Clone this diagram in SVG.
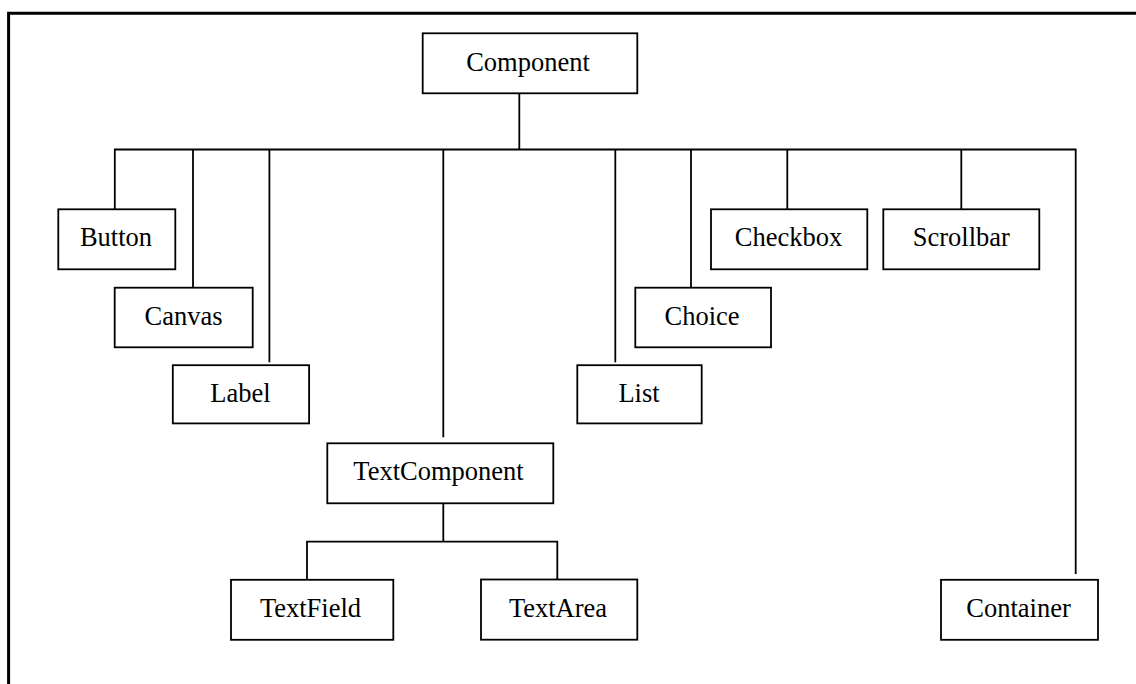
<svg xmlns="http://www.w3.org/2000/svg" width="1136" height="684" viewBox="0 0 1136 684">
  <style>
    .box { fill: #fff; stroke: #000; stroke-width: 1.8; }
    .lbl { font-family: "Liberation Serif", "Times New Roman", serif; font-size: 26.5px; fill: #000; text-anchor: middle; }
    .wire { fill: none; stroke: #000; stroke-width: 1.8; }
    .frame { fill: none; stroke: #000; stroke-width: 3; }
  </style>
  <rect width="1136" height="684" fill="#fff"/>
  <!-- outer frame (right and bottom edges lie outside the page) -->
  <path class="frame" d="M8.6 700 V13.3 H1150"/>

  <g id="connectors">
    <!-- Component stem and main bus -->
    <path class="wire" d="M519.3 93.3 V149.5"/>
    <path class="wire" d="M114.8 209.3 V149.5 H1075.7 V574"/>
    <path class="wire" d="M193 149.5 V287.5"/>
    <path class="wire" d="M269.4 149.5 V362.3"/>
    <path class="wire" d="M443.3 149.5 V437.3"/>
    <path class="wire" d="M615.3 149.5 V362.3"/>
    <path class="wire" d="M691 149.5 V287"/>
    <path class="wire" d="M787.3 149.5 V209.3"/>
    <path class="wire" d="M961.3 149.5 V209.3"/>
    <!-- TextComponent sub-tree -->
    <path class="wire" d="M443.3 503.3 V541.7"/>
    <path class="wire" d="M307 579.8 V541.7 H557.3 V579.8"/>
  </g>

  <g id="component">
    <rect class="box" x="422.7" y="33.3" width="214.6" height="60"/>
    <text class="lbl" x="528" y="70.7">Component</text>
  </g>
  <g id="button">
    <rect class="box" x="58.3" y="209.3" width="117" height="60"/>
    <text class="lbl" x="116" y="246.3">Button</text>
  </g>
  <g id="canvas">
    <rect class="box" x="114.7" y="287.7" width="138" height="59.6"/>
    <text class="lbl" x="183.5" y="324.5">Canvas</text>
  </g>
  <g id="label">
    <rect class="box" x="172.8" y="365.2" width="136.3" height="58.2"/>
    <text class="lbl" x="240.5" y="401.5">Label</text>
  </g>
  <g id="textcomponent">
    <rect class="box" x="327.3" y="443.3" width="226" height="60"/>
    <text class="lbl" x="438.5" y="480.3">TextComponent</text>
  </g>
  <g id="textfield">
    <rect class="box" x="231" y="579.8" width="162.3" height="60"/>
    <text class="lbl" x="310.5" y="616.8">TextField</text>
  </g>
  <g id="textarea">
    <rect class="box" x="481" y="579.5" width="156.3" height="60.2"/>
    <text class="lbl" x="558" y="616.8">TextArea</text>
  </g>
  <g id="list">
    <rect class="box" x="577.3" y="365.2" width="124.4" height="58.2"/>
    <text class="lbl" x="639" y="401.5">List</text>
  </g>
  <g id="choice">
    <rect class="box" x="635.3" y="287.7" width="135.7" height="59.6"/>
    <text class="lbl" x="702" y="324.5">Choice</text>
  </g>
  <g id="checkbox">
    <rect class="box" x="711" y="209.3" width="156.3" height="60"/>
    <text class="lbl" x="788.5" y="246.3">Checkbox</text>
  </g>
  <g id="scrollbar">
    <rect class="box" x="883.3" y="209.3" width="156" height="60"/>
    <text class="lbl" x="961.3" y="246.3">Scrollbar</text>
  </g>
  <g id="container">
    <rect class="box" x="941" y="579.8" width="157" height="60"/>
    <text class="lbl" x="1018.5" y="616.8">Container</text>
  </g>
</svg>
